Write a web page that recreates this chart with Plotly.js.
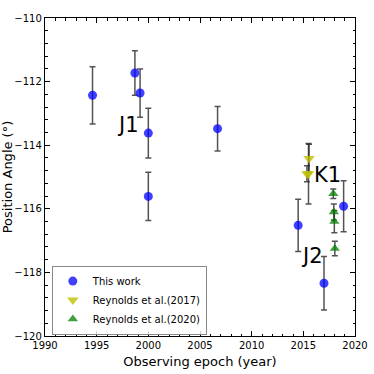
<!DOCTYPE html>
<html>
<head>
<meta charset="utf-8">
<script src="https://cdn.plot.ly/plotly-3.0.1.min.js"></script>
<style>
  html, body { margin: 0; padding: 0; background: #fff; }
  #chart { width: 374px; height: 374px; }
</style>
</head>
<body>
<div id="chart"></div>
<script>
// This work
const thisYear = [1994.6, 1998.7, 1999.2, 2000.0, 2000.0, 2006.7, 2014.5, 2017.0, 2018.9];
const thisPA = [-112.43, -111.73, -112.36, -113.62, -115.61, -113.48, -116.52, -118.34, -115.92];
const thisErr = [0.9, 0.7, 0.76, 0.78, 0.76, 0.7, 0.82, 0.84, 0.8];

// Reynolds et al. (2017)
const r17Year = [2015.55, 2015.35, 2015.5];
const r17PA = [-114.42, -114.9, -114.9];
const r17Err = [0.45, 0.25, 0.95];

// Reynolds et al. (2020)
const r20Year = [2017.9, 2017.95, 2018.0, 2018.05];
const r20PA = [-115.53, -116.1, -116.4, -117.25];
const r20Err = [0.15, 0.25, 0.35, 0.23];

// component labels
const labelText = ["J1", "K1", "J2"];
const labelX = [1998.0, 2017.35, 2015.8];
const labelY = [-113.35, -114.93, -117.48];

const font = "DejaVu Sans, sans-serif";

function errBar(arr) {
    return {type: "data", array: arr, visible: true, color: "rgba(40,40,40,0.8)",
            thickness: 1.5, width: 3};
}

const plotData = [
    {
        x: thisYear, y: thisPA, error_y: errBar(thisErr),
        mode: "markers", type: "scatter", name: "This work",
        marker: {symbol: "circle", size: 9, color: "rgba(0,0,255,0.75)"}
    },
    {
        x: r17Year, y: r17PA, error_y: errBar(r17Err),
        mode: "markers", type: "scatter", name: "Reynolds et al.(2017)",
        marker: {symbol: "triangle-down", size: 10, color: "rgba(191,191,0,0.8)"}
    },
    {
        x: r20Year, y: r20PA, error_y: errBar(r20Err),
        mode: "markers", type: "scatter", name: "Reynolds et al.(2020)",
        marker: {symbol: "triangle-up", size: 9, color: "rgba(0,128,0,0.75)"}
    }
];

const axisCommon = {
    showline: true, linecolor: "#000", linewidth: 1.2, mirror: "allticks",
    ticks: "inside", ticklen: 5, tickwidth: 1, tickcolor: "#000",
    showgrid: false, zeroline: false,
    tickfont: {family: font, size: 10, color: "#000"}
};

const layout = {
    width: 374, height: 374,
    margin: {t: 18, r: 19, b: 38, l: 45},
    paper_bgcolor: "#fff", plot_bgcolor: "#fff",
    showlegend: true,
    legend: {
        x: 0.022, y: 0.113, xanchor: "left", yanchor: "middle",
        bordercolor: "#888", borderwidth: 1, bgcolor: "rgba(255,255,255,0.8)",
        font: {family: font, size: 10, color: "#000"},
        tracegroupgap: 0, itemwidth: 30
    },
    xaxis: Object.assign({}, axisCommon, {
        range: [1990, 2020], dtick: 5, tick0: 1990,
        minor: {dtick: 1, ticks: "inside", ticklen: 2.5, tickcolor: "#000"},
        ticklabelstandoff: 0,
        title: {text: "Observing epoch (year)", font: {family: font, size: 13, color: "#000"}, standoff: 6}
    }),
    yaxis: Object.assign({}, axisCommon, {
        range: [-120, -110], dtick: 2, tick0: -120,
        minor: {dtick: 0.4, ticks: "inside", ticklen: 2.5, tickcolor: "#000"},
        title: {text: "Position Angle (°)", font: {family: font, size: 13, color: "#000"}, standoff: 4}
    }),
    annotations: labelText.map((t, i) => ({
        x: labelX[i], y: labelY[i], xref: "x", yref: "y", text: t, showarrow: false,
        font: {family: font, size: 21, color: "#000"}
    }))
};

Plotly.newPlot("chart", plotData, layout, {displayModeBar: false, staticPlot: true});
</script>
</body>
</html>
